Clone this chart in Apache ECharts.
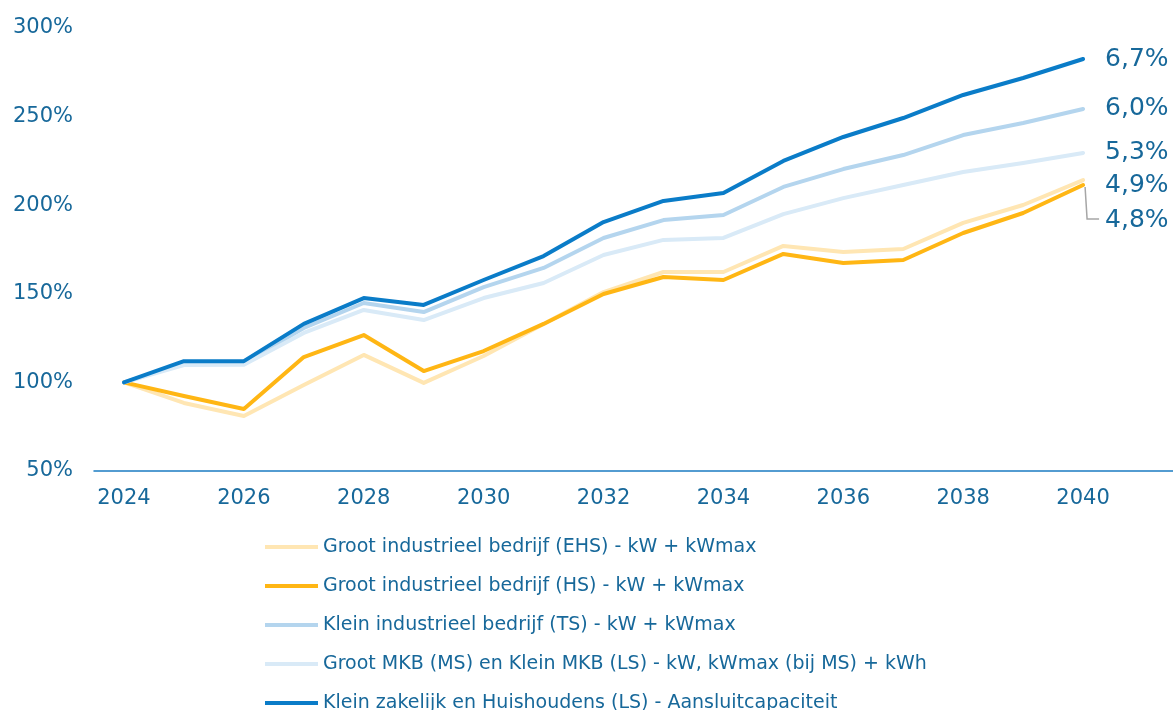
<!DOCTYPE html>
<html>
<head>
<meta charset="utf-8">
<script src="https://cdn.jsdelivr.net/npm/echarts@6/dist/echarts.min.js"></script>
<style>html,body{margin:0;padding:0;background:#fff}#c{width:1173px;height:710px}</style>
</head>
<body>
<div id="c"></div>
<script>
const years = ['2024','2025','2026','2027','2028','2029','2030','2031','2032','2033','2034','2035','2036','2037','2038','2039','2040','2041'];
const seriesNames = [
  'Groot industrieel bedrijf (EHS) - kW + kWmax',
  'Groot industrieel bedrijf (HS) - kW + kWmax',
  'Klein industrieel bedrijf (TS) - kW + kWmax',
  'Groot MKB (MS) en Klein MKB (LS) - kW, kWmax (bij MS) + kWh',
  'Klein zakelijk en Huishoudens (LS) - Aansluitcapaciteit'
];
const ehs = [100, 88.4, 81, 98.5, 115.5, 99.7, 114.9, 133, 151, 162.3, 162.3, 177, 173.6, 175.3, 190, 200.1, 214.2];
const hs  = [100, 92.3, 85, 114.3, 126.7, 106.4, 117.7, 133, 149.9, 159.5, 157.8, 172.5, 167.4, 169.1, 184.3, 195.6, 211.4];
const ts  = [100, 110.6, 111, 130.7, 144.8, 139.7, 153.8, 164.6, 181.5, 191.6, 194.5, 210.3, 220.4, 228.3, 239.6, 246.4, 254.3];
const mkb = [100, 109.8, 110, 127.9, 140.9, 135.2, 147.6, 156.1, 171.9, 180.4, 181.5, 195, 204, 211.4, 218.7, 223.8, 229.5];
const lsz = [100, 112, 112, 133, 147.6, 143.7, 157.8, 171.3, 190.5, 202.4, 206.9, 225, 238.5, 249.2, 262.2, 271.8, 282.5];
const growthLabels = ['4,9%', '4,8%', '6,0%', '5,3%', '6,7%'];
const yTicks = [50, 100, 150, 200, 250, 300];

const colors = ['#FFE6B3', '#FFB614', '#B4D5EE', '#D9EAF7', '#0A7CC8'];
const labelOffsets = [[0, 5], [0, 36], [0, 0], [0, 0], [0, 0]];
const dataSets = [ehs, hs, ts, mkb, lsz];
const txt = '#17689A';
const font = 'DejaVu Sans';

const chart = echarts.init(document.getElementById('c'));
const series = dataSets.map((d, i) => ({
  name: seriesNames[i],
  type: 'line',
  data: d,
  symbol: 'none',
  smooth: false,
  z: 2 + (i === 4 ? 3 : 0),
  lineStyle: { width: 4, color: colors[i], cap: 'round', join: 'round' },
  itemStyle: { color: colors[i] },
  endLabel: {
    show: true,
    formatter: growthLabels[i],
    distance: 22,
    offset: labelOffsets[i],
    color: txt,
    fontFamily: font,
    fontSize: 25
  },
  emphasis: { disabled: true }
}));

chart.setOption({
  animation: false,
  textStyle: { fontFamily: font },
  grid: { left: 94, right: 0, top: 28, bottom: 239, containLabel: false },
  xAxis: {
    type: 'category',
    data: years,
    boundaryGap: true,
    axisLine: { show: true, lineStyle: { color: '#1B7CC2', width: 1.5 } },
    axisTick: { show: false },
    axisLabel: { interval: 1, color: txt, fontSize: 21, fontFamily: font, margin: 17,
      formatter: v => (v === '2041' ? '' : v) },
    splitLine: { show: false }
  },
  yAxis: {
    type: 'value',
    min: yTicks[0], max: yTicks[yTicks.length - 1], interval: 50,
    axisLine: { show: false },
    axisTick: { show: false },
    splitLine: { show: false },
    axisLabel: { color: txt, fontSize: 21, fontFamily: font, margin: 21, formatter: v => v + '%' }
  },
  legend: {
    orient: 'vertical',
    left: 265,
    top: 536,
    height: 300,
    padding: 0,
    icon: 'rect',
    itemWidth: 53,
    itemHeight: 4,
    itemGap: 17,
    data: seriesNames,
    textStyle: { color: txt, fontSize: 19, fontFamily: font, lineHeight: 22 },
    selectedMode: false
  },
  series: series
});

// leader line for the 4,8% label
const pEnd = chart.convertToPixel({ gridIndex: 0 }, ['2040', hs[hs.length - 1]]);
chart.setOption({
  graphic: [{
    type: 'polyline',
    shape: { points: [[pEnd[0] + 2, pEnd[1] + 2], [pEnd[0] + 4, pEnd[1] + 34], [pEnd[0] + 16, pEnd[1] + 34]] },
    style: { stroke: '#A6A6A6', lineWidth: 1.5, fill: null }
  }]
});
</script>
</body>
</html>
